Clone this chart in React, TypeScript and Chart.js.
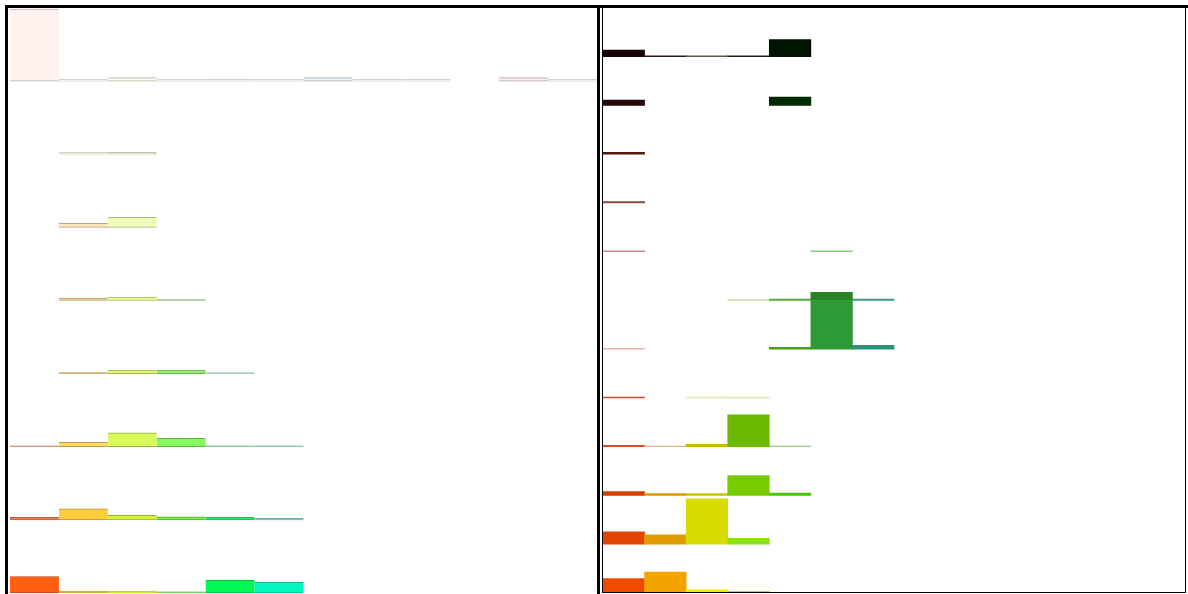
import React, { useEffect, useRef } from 'react';
import { Chart, registerables } from 'chart.js';

Chart.register(...registerables);

// ---------- Left panel: 8 rows x 12 columns (bar height in % of a row) ----------
const leftColumns = ['C1', 'C2', 'C3', 'C4', 'C5', 'C6', 'C7', 'C8', 'C9', 'C10', 'C11', 'C12'];
const leftRow1 = [98.5, 2.2, 4.8, 2.2, 2.0, 2.2, 4.8, 2.0, 2.0, null, 4.8, 2.0];
const leftRow2 = [null, 2.2, 2.9, null, null, null, null, null, null, null, null, null];
const leftRow3 = [null, 5.5, 13.7, null, null, null, null, null, null, null, null, null];
const leftRow4 = [null, 3.4, 4.8, 2.1, null, null, null, null, null, null, null, null];
const leftRow5 = [null, 2.1, 4.8, 4.8, 2.1, null, null, null, null, null, null, null];
const leftRow6 = [1.4, 6.2, 19.2, 11.6, 1.4, 1.4, null, null, null, null, null, null];
const leftRow7 = [3.4, 15.0, 6.2, 4.1, 3.4, 2.1, null, null, null, null, null, null];
const leftRow8 = [22.6, 2.7, 1.8, 1.6, 17.8, 15.0, null, null, null, null, null, null];

const leftColors1 = ['#fff2ee', '#f5f1e6', '#f8fce4', '#eef8ea', '#e8f4ee', '#e6f6f4', '#e6f4f8', '#ecf0f8', '#f0ecf8', '#ffffff', '#fde8f5', '#f8eef0'];
const leftColors2 = ['#ffffff', '#f4ecd8', '#f0f4d8', '#ffffff', '#ffffff', '#ffffff', '#ffffff', '#ffffff', '#ffffff', '#ffffff', '#ffffff', '#ffffff'];
const leftColors3 = ['#ffffff', '#ffe6bc', '#eeffb8', '#ffffff', '#ffffff', '#ffffff', '#ffffff', '#ffffff', '#ffffff', '#ffffff', '#ffffff', '#ffffff'];
const leftColors4 = ['#ffffff', '#f8dc98', '#e8ff90', '#b0e0a0', '#ffffff', '#ffffff', '#ffffff', '#ffffff', '#ffffff', '#ffffff', '#ffffff', '#ffffff'];
const leftColors5 = ['#ffffff', '#f0c870', '#e0f870', '#98f070', '#c8e8d8', '#ffffff', '#ffffff', '#ffffff', '#ffffff', '#ffffff', '#ffffff', '#ffffff'];
const leftColors6 = ['#f08060', '#ffd966', '#d9f95a', '#88f860', '#60d890', '#60d0b0', '#ffffff', '#ffffff', '#ffffff', '#ffffff', '#ffffff', '#ffffff'];
const leftColors7 = ['#ff7f4a', '#ffce3a', '#d4f53a', '#78f040', '#30f070', '#50c8b0', '#ffffff', '#ffffff', '#ffffff', '#ffffff', '#ffffff', '#ffffff'];
const leftColors8 = ['#ff5f10', '#ffc800', '#c8e000', '#60d040', '#00f855', '#00f8c0', '#ffffff', '#ffffff', '#ffffff', '#ffffff', '#ffffff', '#ffffff'];

// ---------- Right panel: 12 rows x 14 columns (bar height in % of a row) ----------
const rightColumns = ['K1', 'K2', 'K3', 'K4', 'K5', 'K6', 'K7', 'K8', 'K9', 'K10', 'K11', 'K12', 'K13', 'K14'];
const rightRow1 = [13.7, 2, 2, 2, 35, null, null, null, null, null, null, null, null, null];
const rightRow2 = [11.3, null, null, null, 17.4, null, null, null, null, null, null, null, null, null];
const rightRow3 = [4.1, null, null, null, null, null, null, null, null, null, null, null, null, null];
const rightRow4 = [3.1, null, null, null, null, null, null, null, null, null, null, null, null, null];
const rightRow5 = [2, null, null, null, null, 2, null, null, null, null, null, null, null, null];
const rightRow6 = [null, null, null, 2, 3.1, 16.8, 3.1, null, null, null, null, null, null, null];
const rightRow7 = [2, null, null, null, 4.1, 99.5, 8.2, null, null, null, null, null, null, null];
const rightRow8 = [2, null, 2, 2, null, null, null, null, null, null, null, null, null, null];
const rightRow9 = [3.1, 1.4, 5.1, 65.6, 1.4, null, null, null, null, null, null, null, null, null];
const rightRow10 = [8.2, 4.1, 4.1, 41, 5.1, null, null, null, null, null, null, null, null, null];
const rightRow11 = [25.6, 19.5, 93.3, 11.9, null, null, null, null, null, null, null, null, null, null];
const rightRow12 = [29.7, 43, 7.2, 3.1, null, null, null, null, null, null, null, null, null, null];

const W = '#ffffff';
const rightColors1 = ['#1a0404', '#2a1a10', '#5a5a48', '#202010', '#001400', W, W, W, W, W, W, W, W, W];
const rightColors2 = ['#2a0808', W, W, W, '#002a00', W, W, W, W, W, W, W, W, W];
const rightColors3 = ['#551a10', W, W, W, W, W, W, W, W, W, W, W, W, W];
const rightColors4 = ['#8a4a40', W, W, W, W, W, W, W, W, W, W, W, W, W];
const rightColors5 = ['#c88a80', W, W, W, W, '#88c888', W, W, W, W, W, W, W, W];
const rightColors6 = [W, W, W, '#c8dca8', '#5aa838', '#268426', '#3a9a80', W, W, W, W, W, W, W];
const rightColors7 = ['#e8b8b0', W, W, W, '#46a010', '#2e9a36', '#2a9275', W, W, W, W, W, W, W];
const rightColors8 = ['#d04a30', W, '#e8e4b0', '#d4e8b4', W, W, W, W, W, W, W, W, W, W];
const rightColors9 = ['#d84a28', '#d8b888', '#c8b800', '#6cb800', '#98cc80', W, W, W, W, W, W, W, W, W];
const rightColors10 = ['#d83c00', '#e09400', '#c8c400', '#78cc00', '#44c800', W, W, W, W, W, W, W, W, W];
const rightColors11 = ['#e04400', '#e09c00', '#d8dc00', '#8ce400', W, W, W, W, W, W, W, W, W, W];
const rightColors12 = ['#f04a00', '#f4a400', '#f0f000', '#88d800', W, W, W, W, W, W, W, W, W, W];

const leftRows = [leftRow1, leftRow2, leftRow3, leftRow4, leftRow5, leftRow6, leftRow7, leftRow8];
const leftColors = [leftColors1, leftColors2, leftColors3, leftColors4, leftColors5, leftColors6, leftColors7, leftColors8];
const rightRows = [rightRow1, rightRow2, rightRow3, rightRow4, rightRow5, rightRow6, rightRow7, rightRow8, rightRow9, rightRow10, rightRow11, rightRow12];
const rightColors = [rightColors1, rightColors2, rightColors3, rightColors4, rightColors5, rightColors6, rightColors7, rightColors8, rightColors9, rightColors10, rightColors11, rightColors12];

function shade(hex: string, f: number): string {
  const n = parseInt(hex.slice(1), 16);
  const r = Math.round(((n >> 16) & 255) * f);
  const g = Math.round(((n >> 8) & 255) * f);
  const b = Math.round((n & 255) * f);
  return `rgb(${r},${g},${b})`;
}

type PanelProps = {
  rows: (number | null)[][];
  colors: string[][];
  labels: string[];
  left: number;
  top: number;
  width: number;
  height: number;
  padding: { left: number; right: number; top: number; bottom: number };
  bordered: boolean;
};

function Panel(props: PanelProps) {
  const ref = useRef<HTMLCanvasElement | null>(null);
  useEffect(() => {
    if (!ref.current) return;
    const n = props.rows.length;
    const datasets = props.rows.map((vals, r) => {
      const base = (n - 1 - r) * 100;
      return {
        label: 'Row ' + (r + 1),
        data: vals.map((v) => (v == null ? null : [base, base + v])),
        backgroundColor: props.colors[r],
        borderColor: props.colors[r].map((c) => shade(c, 0.72)),
        borderWidth: props.bordered ? { top: 1, bottom: 1, left: 0, right: 0 } : 0,
        borderSkipped: false,
        grouped: false,
        barPercentage: 1,
        categoryPercentage: 1,
      };
    });
    const chart = new Chart(ref.current, {
      type: 'bar',
      data: { labels: props.labels, datasets: datasets as any },
      options: {
        animation: false,
        responsive: false,
        devicePixelRatio: 1,
        layout: { padding: props.padding },
        plugins: { legend: { display: false }, tooltip: { enabled: false } },
        scales: {
          x: { display: false, offset: true, grid: { display: false } },
          y: { display: false, min: 0, max: n * 100, grid: { display: false } },
        },
      },
    });
    return () => chart.destroy();
  }, []);
  return (
    <canvas
      ref={ref}
      width={props.width}
      height={props.height}
      style={{ position: 'absolute', left: props.left, top: props.top, width: props.width, height: props.height }}
    />
  );
}

const line = (left: number, top: number, width: number, height: number) => (
  <div style={{ position: 'absolute', left, top, width, height, background: '#000' }} />
);

export default function App() {
  return (
    <div style={{ position: 'fixed', left: 0, top: 0, width: 1188, height: 594, background: '#fff', overflow: 'hidden' }}>
      <Panel
        rows={leftRows}
        colors={leftColors}
        labels={leftColumns}
        left={8}
        top={8}
        width={589}
        height={586}
        padding={{ left: 2, right: 0, top: 0, bottom: 1 }}
        bordered={true}
      />
      <Panel
        rows={rightRows}
        colors={rightColors}
        labels={rightColumns}
        left={603}
        top={8}
        width={582}
        height={585}
        padding={{ left: 0, right: 0, top: 0, bottom: 0 }}
        bordered={false}
      />
      {line(5, 5, 1183, 3)}
      {line(5, 5, 3, 589)}
      {line(597, 5, 3, 589)}
      {line(602, 8, 1, 585)}
      {line(1185, 5, 1, 588)}
      {line(602, 592, 584, 1)}
    </div>
  );
}
